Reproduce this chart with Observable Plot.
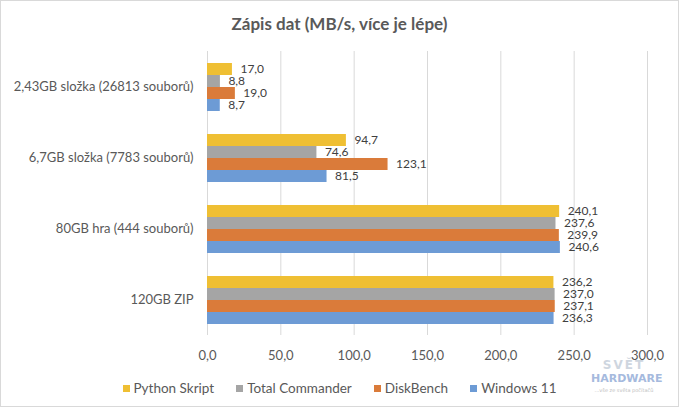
<!DOCTYPE html>
<html>
<head>
<meta charset="utf-8">
<script src="https://cdn.jsdelivr.net/npm/d3@7"></script>
<script src="https://cdn.jsdelivr.net/npm/@observablehq/plot@0.6"></script>
<style>
  html, body { margin: 0; padding: 0; background: #fff; }
  #frame {
    position: relative; width: 679px; height: 407px; box-sizing: border-box;
    border: 1px solid #d9d9d9; background: #fff; overflow: hidden;
    font-family: Lato, "Open Sans", sans-serif; color: #595959;
  }
  #title {
    height: 42px; line-height: 46px; text-align: center;
    font-weight: bold; font-size: 17px; color: #595959;
  }
  #legend {
    display: flex; justify-content: center; align-items: center; gap: 22px;
    height: 30px; font-size: 13.5px; color: #595959; margin-top: 0px;
  }
  #legend .item { display: flex; align-items: center; gap: 4px; }
  #legend .sw { width: 7px; height: 7px; display: inline-block; }
  #wm { position: absolute; left: 590px; top: 357px; width: 66px; text-align: center; line-height: 1; opacity: 0.8; }
  #wm .a { font: bold 12px "DejaVu Sans", sans-serif; color: #c3ccd8; letter-spacing: 2px; }
  #wm .b { font: bold 11px "DejaVu Sans", sans-serif; color: #8fa9d6; margin-top: 0px; }
  #wm .c { font: 5px "DejaVu Sans", sans-serif; color: #b0b0b0; margin-top: 2px; }
</style>
</head>
<body>
<div id="frame">
  <div id="title">Zápis dat (MB/s, více je lépe)</div>
  <div id="chart"></div>
  <div id="legend"></div>
  <div id="wm"><div class="a">SVĚT</div><div class="b">HARDWARE</div><div class="c">...vše ze světa počítačů</div></div>
</div>
<script>
const categories = ["2,43GB složka (26813 souborů)", "6,7GB složka (7783 souborů)", "80GB hra (444 souborů)", "120GB ZIP"];
const series = ["Python Skript", "Total Commander", "DiskBench", "Windows 11"];
const pythonSkript = [17.0, 94.7, 240.1, 236.2];
const totalCommander = [8.8, 74.6, 237.6, 237.0];
const diskBench = [19.0, 123.1, 239.9, 237.1];
const windows11 = [8.7, 81.5, 240.6, 236.3];
const xTicks = [0, 50, 100, 150, 200, 250, 300];
const colors = ["#efbf33", "#a5a5a5", "#da7b3a", "#6d9bd5"];

const valuesBySeries = [pythonSkript, totalCommander, diskBench, windows11];
const rows = [];
categories.forEach((c, i) => {
  series.forEach((s, j) => rows.push({category: c, series: s, value: valuesBySeries[j][i]}));
});

const locale = d3.formatLocale({decimal: ",", thousands: " ", grouping: [3], currency: ["", " Kč"]});
const fmt = locale.format(".1f");

const chart = Plot.plot({
  width: 677,
  height: 330,
  marginTop: 8,
  marginBottom: 38,
  marginLeft: 206,
  marginRight: 31,
  style: {fontFamily: "Lato, 'Open Sans', sans-serif", fontSize: "13px", color: "#595959", background: "#fff"},
  x: {domain: [0, 300], ticks: xTicks, tickFormat: fmt, label: null, tickSize: 0, tickPadding: 15},
  y: {domain: series, axis: null, paddingInner: 0, paddingOuter: 0.95},
  fy: {domain: categories, padding: 0, axis: "left", label: null, tickSize: 0, tickPadding: 14},
  color: {domain: series, range: colors},
  marks: [
    Plot.ruleX(xTicks, {stroke: "#d9d9d9", strokeWidth: 1}),
    Plot.barX(rows, {x: "value", y: "series", fy: "category", fill: "series"}),
    Plot.text(rows, {x: "value", y: "series", fy: "category", text: d => fmt(d.value), textAnchor: "start", dx: 8, fill: "#404040", fontSize: 12})
  ]
});
document.getElementById("chart").appendChild(chart);

const legend = document.getElementById("legend");
series.forEach((s, j) => {
  const item = document.createElement("div");
  item.className = "item";
  const sw = document.createElement("span");
  sw.className = "sw";
  sw.style.background = colors[j];
  const t = document.createElement("span");
  t.textContent = s;
  item.appendChild(sw); item.appendChild(t);
  legend.appendChild(item);
});
</script>
</body>
</html>
